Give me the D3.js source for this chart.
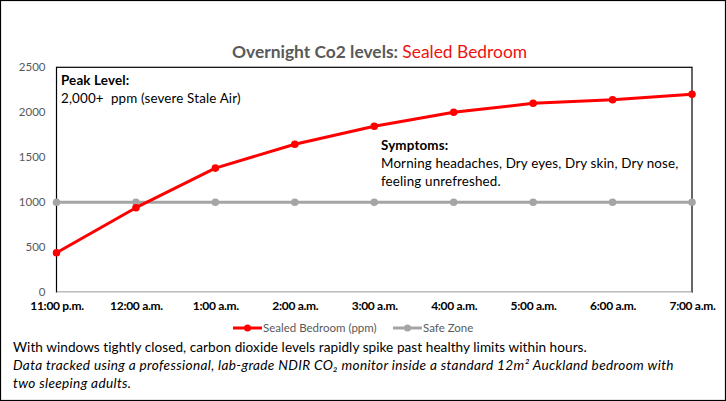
<!DOCTYPE html>
<html>
<head>
<meta charset="utf-8">
<script src="https://cdn.jsdelivr.net/npm/d3@7"></script>
<style>
  body { margin: 0; background: #fff; }
  svg { display: block; font-family: Lato, "Open Sans", sans-serif; }
</style>
</head>
<body>
<svg width="726" height="401"></svg>
<script>
// chart data
const hours = ["11:00 p.m.", "12:00 a.m.", "1:00 a.m.", "2:00 a.m.", "3:00 a.m.", "4:00 a.m.", "5:00 a.m.", "6:00 a.m.", "7:00 a.m."];
const sealedBedroom = [440, 940, 1380, 1645, 1845, 2000, 2100, 2140, 2200];
const safeZone = [1000, 1000, 1000, 1000, 1000, 1000, 1000, 1000, 1000];
const yTicks = [0, 500, 1000, 1500, 2000, 2500];

let graphic = d3.select("svg"),
    width = +graphic.attr("width"),
    height = +graphic.attr("height");

// outer frame
graphic.append("rect")
    .attr("x", 0.5).attr("y", 0.5)
    .attr("width", width - 1).attr("height", height - 1)
    .attr("fill", "#fff").attr("stroke", "#000").attr("stroke-width", 1.2);

let x = d3.scalePoint().domain(hours).range([56.5, 692]);
let y = d3.scaleLinear().domain([0, 2500]).range([292.3, 67.3]);

// plot area border
graphic.append("rect")
    .attr("x", x.range()[0]).attr("y", y(2500))
    .attr("width", x.range()[1] - x.range()[0]).attr("height", y(0) - y(2500))
    .attr("fill", "none").attr("stroke", "#000").attr("stroke-width", 1.2);

graphic.append("line")
    .attr("x1", x.range()[0]).attr("x2", x.range()[1])
    .attr("y1", y(0)).attr("y2", y(0))
    .attr("stroke", "#d9d9d9").attr("stroke-width", 1.2);

// y axis labels
let yAxis = graphic.append("g")
    .attr("transform", "translate(" + x.range()[0] + ",0)")
    .call(d3.axisLeft(y).tickValues(yTicks).tickSize(0).tickPadding(11).tickFormat(d3.format("d")));
yAxis.select(".domain").remove();
yAxis.selectAll("text")
    .attr("fill", "#595959")
    .style("font-size", "11.5px")
    .style("font-family", "Lato, sans-serif");

// x axis labels
let xAxis = graphic.append("g")
    .attr("transform", "translate(0," + y(0) + ")")
    .call(d3.axisBottom(x).tickSize(0).tickPadding(9));
xAxis.select(".domain").remove();
xAxis.selectAll("text")
    .attr("fill", "#000")
    .style("font-size", "12px")
    .style("font-weight", "bold")
    .style("letter-spacing", "-0.3px")
    .style("font-family", "Lato, sans-serif");

// series
let lineGen = d3.line()
    .x(function (d, i) { return x(hours[i]); })
    .y(function (d) { return y(d); });

function drawSeries(values, color) {
    graphic.append("path")
        .datum(values)
        .attr("d", lineGen)
        .attr("fill", "none")
        .attr("stroke", color)
        .attr("stroke-width", 3)
        .attr("stroke-linejoin", "round");
    graphic.append("g").selectAll("circle")
        .data(values)
        .enter().append("circle")
        .attr("cx", function (d, i) { return x(hours[i]); })
        .attr("cy", function (d) { return y(d); })
        .attr("r", 3.8)
        .attr("fill", color);
}
drawSeries(safeZone, "#a5a5a5");
drawSeries(sealedBedroom, "#ff0000");

// title
let title = graphic.append("text")
    .attr("x", 379.5).attr("y", 58)
    .attr("text-anchor", "middle")
    .style("font-size", "17.4px");
title.append("tspan").attr("fill", "#595959").style("font-weight", "bold").text("Overnight Co2 levels: ");
title.append("tspan").attr("fill", "#ee1111").text("Sealed Bedroom");

// annotations
function note(x0, y0, lines) {
    let t = graphic.append("text")
        .attr("x", x0).attr("y", y0)
        .attr("fill", "#000")
        .style("font-size", "13.4px")
        .style("letter-spacing", "0.15px")
        .style("white-space", "pre");
    lines.forEach(function (l, i) {
        t.append("tspan")
            .attr("x", x0)
            .attr("dy", i === 0 ? 0 : 18)
            .style("font-weight", l.bold ? "bold" : "normal")
            .text(l.text);
    });
}
note(61, 85, [{text: "Peak Level:", bold: true}, {text: "2,000+  ppm (severe Stale Air)"}]);
note(381, 150, [{text: "Symptoms:", bold: true}, {text: "Morning headaches, Dry eyes, Dry skin, Dry nose,"}, {text: "feeling unrefreshed."}]);

// legend
let legendItems = [
    {name: "Sealed Bedroom (ppm)", color: "#ff0000", x: 233},
    {name: "Safe Zone", color: "#a5a5a5", x: 393}
];
let legend = graphic.append("g").selectAll("g")
    .data(legendItems)
    .enter().append("g")
    .attr("transform", function (d) { return "translate(" + d.x + ",328)"; });
legend.append("line")
    .attr("x1", 0).attr("x2", 29)
    .attr("stroke", function (d) { return d.color; })
    .attr("stroke-width", 3);
legend.append("circle")
    .attr("cx", 14.5).attr("r", 3.5)
    .attr("fill", function (d) { return d.color; });
legend.append("text")
    .attr("x", 30).attr("y", 4)
    .attr("fill", "#595959")
    .style("font-size", "11.5px")
    .text(function (d) { return d.name; });

// footer
let footer = graphic.append("text")
    .attr("x", 13).attr("y", 352)
    .attr("fill", "#000")
    .style("font-size", "13.6px");
footer.append("tspan").attr("x", 13).style("letter-spacing", "0.05px")
    .text("With windows tightly closed, carbon dioxide levels rapidly spike past healthy limits within hours.");
footer.append("tspan").attr("x", 13).attr("dy", 18).style("font-style", "italic").style("letter-spacing", "0.35px")
    .text("Data tracked using a professional, lab-grade NDIR CO\u2082 monitor inside a standard 12m\u00b2 Auckland bedroom with");
footer.append("tspan").attr("x", 13).attr("dy", 18).style("font-style", "italic").style("letter-spacing", "0.35px")
    .text("two sleeping adults.");
</script>
</body>
</html>
